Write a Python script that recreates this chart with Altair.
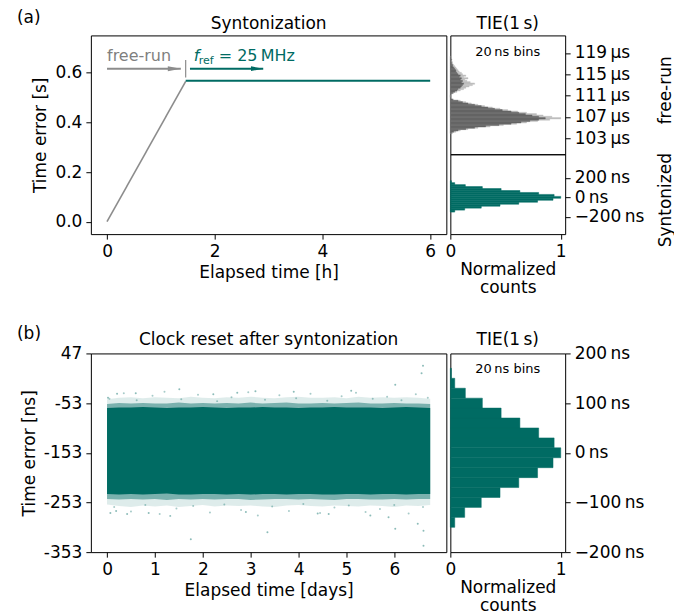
import altair as alt
import pandas as pd

TEAL = "#006b63"
GRAY_LINE = "#8c8c8c"
GRAY_DARK = "#666666"
GRAY_LIGHT = "#bdbdbd"
TEXT_GRAY = "#7f7f7f"

# ---------------- (a) syntonization trace ----------------
free_t = [0.0, 1.46]
free_err = [0.0, 0.565]
synt_t = [1.46, 6.0]
synt_err = [0.567, 0.567]
switch_t = [1.46]
switch_lo = [0.581]
switch_hi = [0.651]
free_arrow_x = [0.0, 1.37]
synt_arrow_x = [1.54, 2.90]
arrow_y = [0.616]
label_y = [0.645]
free_label = ["free-run"]
free_label_x = [0.0]
fref_label_x = [1.61]
fref_parts = ["f", "ref", "= 25\u2009MHz"]

# ---------------- (a) TIE histogram, free-run (µs) ----------------
fr_bin_us = [104.0, 104.25, 104.5, 104.75, 105.0, 105.25, 105.5, 105.75, 106.0, 106.25,
             106.5, 106.75, 107.0, 107.25, 107.5, 107.75, 108.0, 108.25, 108.5, 108.75,
             109.0, 109.25, 109.5, 109.75, 110.0, 110.25, 110.5, 110.75, 111.0, 111.25,
             111.5, 111.75, 112.0, 112.25, 112.5, 112.75, 113.0, 113.25, 113.5, 113.75,
             114.0, 114.25, 114.5, 114.75, 115.0, 115.25, 115.5, 115.75, 116.0, 116.25,
             116.5, 116.75, 117.0, 117.25, 117.5, 117.75, 118.0, 118.25]
fr_dark = [0.01, 0.03, 0.07, 0.14, 0.22, 0.32, 0.44, 0.55, 0.64, 0.72,
           0.80, 0.86, 0.80, 0.74, 0.68, 0.62, 0.55, 0.47, 0.40, 0.34,
           0.28, 0.22, 0.16, 0.11, 0.07, 0.02, 0.005, 0.0, 0.0, 0.005,
           0.02, 0.04, 0.06, 0.07, 0.09, 0.10, 0.11, 0.12, 0.10, 0.11,
           0.09, 0.10, 0.08, 0.09, 0.07, 0.06, 0.05, 0.05, 0.04, 0.03,
           0.02, 0.02, 0.01, 0.01, 0.005, 0.01, 0.005, 0.005]
fr_light = [0.02, 0.05, 0.09, 0.16, 0.25, 0.36, 0.48, 0.60, 0.69, 0.79,
            0.90, 1.0, 0.92, 0.84, 0.78, 0.69, 0.61, 0.52, 0.45, 0.38,
            0.31, 0.25, 0.19, 0.14, 0.09, 0.03, 0.01, 0.005, 0.005, 0.01,
            0.03, 0.06, 0.09, 0.12, 0.14, 0.17, 0.20, 0.22, 0.18, 0.15,
            0.13, 0.16, 0.12, 0.14, 0.11, 0.10, 0.08, 0.07, 0.06, 0.05,
            0.04, 0.03, 0.02, 0.02, 0.01, 0.015, 0.01, 0.01]
fr_bin_half = 0.125

# ---------------- TIE histogram, syntonized (20 ns bins) ----------------
sy_bin_ns = [-140, -120, -100, -80, -60, -40, -20, 0, 20, 40, 60, 80, 100, 120, 140, 160]
sy_counts = [0.04, 0.13, 0.28, 0.45, 0.62, 0.79, 0.93, 1.0, 0.94, 0.80, 0.63, 0.46, 0.29, 0.136, 0.04, 0.01]
sy_bin_half = 10
bins_label = ["20\u2009ns bins"]

# ---------------- titles ----------------
title_a = ["Syntonization"]
title_b = ["Clock reset after syntonization"]
title_hist = ["TIE(1\u2009s)"]

# ---------------- (b) clock reset after syntonization ----------------
band_days = [0.0, 0.25, 0.5, 0.75, 1.0, 1.25, 1.5, 1.75, 2.0, 2.25, 2.5, 2.75, 3.0, 3.25,
             3.5, 3.75, 4.0, 4.25, 4.5, 4.75, 5.0, 5.25, 5.5, 5.75, 6.0, 6.25, 6.5, 6.75]
solid_top = [-63, -62, -62, -61, -62, -63, -62, -62, -61, -62, -63, -62, -62, -61,
             -62, -62, -63, -62, -62, -61, -62, -62, -62, -63, -62, -61, -62, -63]
solid_bot = [-236, -237, -236, -237, -236, -235, -237, -237, -236, -236, -237, -236, -237, -236,
             -236, -237, -236, -236, -237, -237, -236, -236, -237, -236, -236, -237, -236, -236]
mid_top = [-55, -53, -54, -53, -54, -54, -52, -54, -53, -54, -53, -54, -52, -54,
           -53, -52, -54, -54, -53, -54, -53, -52, -54, -54, -53, -54, -54, -55]
mid_bot = [-246, -247, -246, -247, -246, -248, -246, -247, -246, -247, -246, -246, -248, -247,
           -246, -246, -247, -246, -247, -248, -246, -246, -247, -247, -246, -247, -246, -246]
sparse_top = [-45, -42, -41, -43, -41, -42, -43, -40, -42, -43, -41, -42, -40, -42,
              -43, -41, -40, -42, -42, -41, -43, -40, -42, -41, -42, -41, -42, -44]
sparse_bot = [-257, -260, -262, -259, -261, -259, -262, -260, -258, -261, -259, -260, -259, -261,
              -262, -259, -258, -260, -261, -259, -260, -261, -259, -260, -262, -259, -260, -258]
speck_days = [0.05, 0.35, 0.62, 0.95, 1.2, 1.55, 1.9, 2.3, 2.6, 2.95, 3.3, 3.6, 3.95, 4.25,
              4.6, 4.9, 5.2, 5.55, 5.85, 6.15, 6.45, 6.7,
              0.15, 0.5, 0.8, 1.1, 1.45, 1.8, 2.15, 2.45, 2.8, 3.15, 3.45, 3.8, 4.1, 4.45,
              4.75, 5.05, 5.4, 5.7, 6.0, 6.3, 6.6]
speck_ns = [-44, -33, -47, -38, -30, -45, -36, -49, -41, -31, -46, -37, -43, -34,
            -48, -39, -32, -44, -40, -47, -35, -42,
            -262, -271, -258, -276, -265, -260, -273, -257, -268, -279, -261, -270, -256, -274,
            -263, -259, -272, -266, -258, -275, -262]
outlier_days = [6.60, 6.57, 6.02, 1.51, 2.72, 1.75, 3.35, 6.49, 6.61, 6.61, 6.02, 5.88, 0.19, 4.63,
                0.21, 2.22, 0.02, 0.42, 0.07, 1.32, 0.87, 3.9, 5.1, 4.4, 2.9, 0.6, 5.5, 3.1]
outlier_ns = [22, 7, -16, -25, -32, -327, -313, -296, -310, -340, -306, -283, -270, -276,
              -34, -35, -42, -276, -274, -280, -274, -30, -28, -275, -272, -33, -279, -29]


def lin(domain):
    return alt.Scale(domain=domain, nice=False, zero=False)


def label(text, x, y, size=17, align="center", baseline="alphabetic"):
    return alt.Chart(pd.DataFrame({"s": text})).mark_text(
        align=align, baseline=baseline, fontSize=size, color="black").encode(
        x=alt.value(x), y=alt.value(y), text="s:N")


# ======================= chart (a) =======================
xa_scale = lin([-0.3, 6.3])
ya_scale = lin([-0.05, 0.75])
xa_axis = alt.Axis(values=[0, 2, 4, 6], format="d", title="Elapsed time [h]")
ya_axis = alt.Axis(values=[0, 0.2, 0.4, 0.6], format=".1f", title="Time error [s]")


def XA(f):
    return alt.X(f, scale=xa_scale, axis=xa_axis)


def YA(f):
    return alt.Y(f, scale=ya_scale, axis=ya_axis)


HEAD = "M-2,-0.38L0,0L-2,0.38Z"

free_line = alt.Chart(pd.DataFrame({"t": free_t, "e": free_err})).mark_line(
    color=GRAY_LINE, strokeWidth=1.6).encode(x=XA("t:Q"), y=YA("e:Q"))
synt_line = alt.Chart(pd.DataFrame({"t": synt_t, "e": synt_err})).mark_line(
    color=TEAL, strokeWidth=2).encode(x=XA("t:Q"), y=YA("e:Q"))
switch_rule = alt.Chart(pd.DataFrame({"t": switch_t, "lo": switch_lo, "hi": switch_hi})).mark_rule(
    color=GRAY_LINE, strokeWidth=1.2).encode(x=XA("t:Q"), y=YA("lo:Q"), y2="hi:Q")

fa_df = pd.DataFrame({"x0": [free_arrow_x[0]], "x1": [free_arrow_x[1]], "y": arrow_y})
sa_df = pd.DataFrame({"x0": [synt_arrow_x[0]], "x1": [synt_arrow_x[1]], "y": arrow_y})
free_arrow = alt.Chart(fa_df).mark_rule(color=GRAY_LINE, strokeWidth=2).encode(
    x=XA("x0:Q"), x2="x1:Q", y=YA("y:Q"))
free_head = alt.Chart(fa_df).mark_point(shape=HEAD, filled=True, size=169, color=GRAY_LINE, opacity=1).encode(
    x=XA("x1:Q"), y=YA("y:Q"))
synt_arrow = alt.Chart(sa_df).mark_rule(color=TEAL, strokeWidth=2).encode(
    x=XA("x0:Q"), x2="x1:Q", y=YA("y:Q"))
synt_head = alt.Chart(sa_df).mark_point(shape=HEAD, filled=True, size=150, color=TEAL, opacity=1).encode(
    x=XA("x1:Q"), y=YA("y:Q"))

free_txt = alt.Chart(pd.DataFrame({"x": free_label_x, "y": label_y, "s": free_label})).mark_text(
    align="left", baseline="alphabetic", fontSize=16, color=TEXT_GRAY).encode(
    x=XA("x:Q"), y=YA("y:Q"), text="s:N")
fref_df = pd.DataFrame({"x": fref_label_x, "y": label_y})
f_txt = alt.Chart(fref_df.assign(s=[fref_parts[0]])).mark_text(
    align="left", baseline="alphabetic", fontSize=16, fontStyle="italic", color=TEAL).encode(
    x=XA("x:Q"), y=YA("y:Q"), text="s:N")
ref_txt = alt.Chart(fref_df.assign(s=[fref_parts[1]])).mark_text(
    align="left", baseline="alphabetic", fontSize=11, color=TEAL, dx=5, dy=3).encode(
    x=XA("x:Q"), y=YA("y:Q"), text="s:N")
eq_txt = alt.Chart(fref_df.assign(s=[fref_parts[2]])).mark_text(
    align="left", baseline="alphabetic", fontSize=16, color=TEAL, dx=25).encode(
    x=XA("x:Q"), y=YA("y:Q"), text="s:N")

chart_a = alt.layer(free_line, synt_line, switch_rule, free_arrow, free_head, synt_arrow, synt_head,
                    free_txt, f_txt, ref_txt, eq_txt,
                    label(["(a)"], -74, -12.5, align="left"),
                    label(title_a, 178, -6.7)).properties(width=356, height=199)

# ======================= histograms (a) =======================
hx_scale = lin([0, 1.04])
fr_df = pd.DataFrame({"c": fr_bin_us, "dark": fr_dark, "light": fr_light})
fr_df["lo"] = fr_df["c"] - fr_bin_half
fr_df["hi"] = fr_df["c"] + fr_bin_half
fr_df["zero"] = 0.0
fr_y_scale = lin([100, 122.3])
fr_y_axis = alt.Axis(orient="right", values=[103, 107, 111, 115, 119],
                     labelExpr="format(datum.value, 'd') + '\u2009µs'",
                     title="free-run", titleAngle=270, titleX=100, titleY=54.5,
                     titleAlign="center", titleBaseline="middle")
fr_light_bars = alt.Chart(fr_df).mark_rect(color=GRAY_LIGHT, stroke=GRAY_LIGHT, strokeWidth=0.4).encode(
    x=alt.X("zero:Q", scale=hx_scale, axis=None), x2="light:Q",
    y=alt.Y("lo:Q", scale=fr_y_scale, axis=fr_y_axis), y2="hi:Q")
fr_dark_bars = alt.Chart(fr_df).mark_rect(color=GRAY_DARK, stroke=GRAY_DARK, strokeWidth=0.4).encode(
    x=alt.X("zero:Q", scale=hx_scale, axis=None), x2="dark:Q",
    y=alt.Y("lo:Q", scale=fr_y_scale, axis=fr_y_axis), y2="hi:Q")
hist_fr = alt.layer(fr_light_bars, fr_dark_bars,
                    label(bins_label, 57.5, 20.5, size=13),
                    label(title_hist, 57.5, -6.7)).properties(width=115, height=119)

sy_df = pd.DataFrame({"c": sy_bin_ns, "v": sy_counts})
sy_df["lo"] = sy_df["c"] - sy_bin_half
sy_df["hi"] = sy_df["c"] + sy_bin_half
sy_df["zero"] = 0.0
hx_axis = alt.Axis(values=[0, 1], format="d", title=["Normalized", "counts"],
                   titleLineHeight=18.5, titlePadding=2)
sy_a_axis = alt.Axis(orient="right", values=[-200, 0, 200],
                     labelExpr="format(datum.value, 'd') + '\u2009ns'",
                     title="Syntonized", titleAngle=270, titleX=100, titleY=45.5,
                     titleAlign="center", titleBaseline="middle")
hist_sy_a = alt.Chart(sy_df).mark_rect(color=TEAL, stroke=TEAL, strokeWidth=0.5).encode(
    x=alt.X("zero:Q", scale=hx_scale, axis=hx_axis), x2="v:Q",
    y=alt.Y("lo:Q", scale=lin([-375, 440]), axis=sy_a_axis), y2="hi:Q").properties(width=115, height=80)

# ======================= chart (b) =======================
xb_scale = lin([-0.3375, 7.0875])
yb_scale = lin([-353, 47])
xb_axis = alt.Axis(values=[0, 1, 2, 3, 4, 5, 6], format="d", title="Elapsed time [days]")
yb_axis = alt.Axis(values=[-353, -253, -153, -53, 47],
                   labelExpr="datum.value < 0 ? '-' + format(-datum.value, 'd') : format(datum.value, 'd')",
                   title="Time error [ns]")


def XB(f):
    return alt.X(f, scale=xb_scale, axis=xb_axis)


def YB(f):
    return alt.Y(f, scale=yb_scale, axis=yb_axis)


band_df = pd.DataFrame({"d": band_days, "st": solid_top, "sb": solid_bot, "mt": mid_top,
                        "mb": mid_bot, "pt": sparse_top, "pb": sparse_bot})
band_sparse = alt.Chart(band_df).mark_area(color=TEAL, opacity=0.13).encode(
    x=XB("d:Q"), y=YB("pb:Q"), y2="pt:Q")
band_mid = alt.Chart(band_df).mark_area(color=TEAL, opacity=0.45).encode(
    x=XB("d:Q"), y=YB("mb:Q"), y2="mt:Q")
band_solid = alt.Chart(band_df).mark_area(color=TEAL, opacity=1).encode(
    x=XB("d:Q"), y=YB("sb:Q"), y2="st:Q")
specks = alt.Chart(pd.DataFrame({"d": speck_days, "e": speck_ns})).mark_circle(
    color=TEAL, size=4, opacity=0.35).encode(x=XB("d:Q"), y=YB("e:Q"))
outliers = alt.Chart(pd.DataFrame({"d": outlier_days, "e": outlier_ns})).mark_circle(
    color=TEAL, size=4, opacity=0.45).encode(x=XB("d:Q"), y=YB("e:Q"))
chart_b = alt.layer(band_sparse, band_mid, band_solid, specks, outliers,
                    label(["(b)"], -74, -14, align="left"),
                    label(title_b, 178, -8.3)).properties(width=356, height=199)

sy_b_axis = alt.Axis(orient="right", values=[-200, -100, 0, 100, 200],
                     labelExpr="format(datum.value, 'd') + '\u2009ns'", title=None)
hist_b_bars = alt.Chart(sy_df).mark_rect(color=TEAL, stroke=TEAL, strokeWidth=0.5).encode(
    x=alt.X("zero:Q", scale=hx_scale, axis=hx_axis), x2="v:Q",
    y=alt.Y("lo:Q", scale=lin([-200, 200]), axis=sy_b_axis), y2="hi:Q")
hist_b = alt.layer(hist_b_bars, label(bins_label, 57.5, 19.5, size=13),
                   label(title_hist, 57.5, -8.5)).properties(width=115, height=199)

# ======================= layout =======================
row1 = alt.hconcat(chart_a, alt.vconcat(hist_fr, hist_sy_a, spacing=0, bounds="flush"),
                   spacing=4, bounds="flush")
row2 = alt.hconcat(chart_b, hist_b, spacing=4, bounds="flush")
chart = alt.vconcat(row1, row2, spacing=28.5).properties(
    padding={"left": 8, "top": 0, "right": 0, "bottom": 0}
).configure(font="DejaVu Sans").configure_view(
    stroke="black", strokeWidth=1
).configure_axis(
    grid=False, domain=False, tickColor="black", tickSize=5, tickWidth=1,
    labelFontSize=17, titleFontSize=17, labelColor="black", titleColor="black",
    titleFontWeight="normal", labelPadding=4, titlePadding=5,
    labelOverlap=False, labelFlush=False
).configure_title(fontSize=17, fontWeight="normal", color="black")

chart.save("out.html", embed_options={"renderer": "svg", "actions": False})
